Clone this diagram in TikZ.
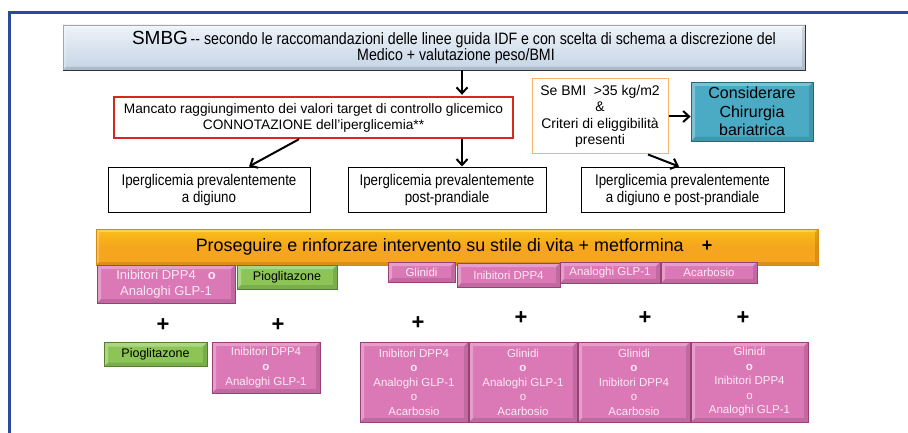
\documentclass[tikz,border=0pt]{standalone}
\usepackage{fontspec}
\setmainfont{Liberation Sans}
\newfontfamily\nar[FakeStretch=0.86]{Liberation Sans}
\usetikzlibrary{arrows.meta,calc}
\definecolor{frameblue}{HTML}{2B4A9C}
\definecolor{pinkf}{HTML}{DB79B6}
\definecolor{pinkd}{HTML}{9C3F78}
\definecolor{pinkt}{HTML}{FBEAF5}
\definecolor{greenf}{HTML}{8CC556}
\definecolor{greend}{HTML}{557F2C}
\definecolor{tealf}{HTML}{4BAAC4}
\definecolor{teald}{HTML}{23687C}
\definecolor{orangef}{HTML}{F5A51E}
\definecolor{oranged}{HTML}{D98A0E}
\definecolor{redb}{HTML}{D42A1E}
\definecolor{bmib}{HTML}{F7B36E}
\definecolor{smbgt}{HTML}{EEF3F9}
\definecolor{smbgb}{HTML}{C4D4E5}
\tikzset{
  bev/.style={path picture={
    \coordinate (ppsw) at (path picture bounding box.south west);
    \coordinate (ppne) at (path picture bounding box.north east);
    \fill[white,opacity=.28] (ppsw) |- (ppne) -- ([shift={(-#1,-#1)}]ppne) -| ([shift={(#1,#1)}]ppsw) -- cycle;
    \fill[black,opacity=.12] (ppsw) -| (ppne) -- ([shift={(-#1,-#1)}]ppne) |- ([shift={(#1,#1)}]ppsw) -- cycle;
  }},
  bev/.default=4pt,
  box/.style={rectangle, inner sep=0pt, align=center},
  blackbox/.style={box, draw=black, line width=1pt, fill=white, font=\nar\fontsize{15.5}{17}\selectfont},
  pinkbox/.style={box, fill=pinkf, draw=pinkd, line width=.7pt, bev, text=pinkt},
  greenbox/.style={box, fill=greenf, draw=greend, line width=.7pt, bev, text=black, font=\fontsize{12.5}{14}\selectfont},
  arr/.style={line width=2pt, -{Straight Barb[length=6pt,width=11pt,line width=2pt]}},
  plus/.style={font=\bfseries\fontsize{22}{22}\selectfont, inner sep=0pt},
}
\begin{document}
\begin{tikzpicture}[x=1pt,y=-1pt]
\useasboundingbox (0,0) rectangle (908,433);
\fill[white] (0,0) rectangle (908,433);
% frame
\draw[frameblue, line width=3pt] (9.5,433) -- (9.5,13) -- (908,13);

% top SMBG box
\node[box, minimum width=742pt, minimum height=45pt, top color=smbgt, bottom color=smbgb,
      draw=gray!70, line width=.7pt, bev=3pt] (smbg) at (434,47.5)
  {\hspace*{40pt}{\fontsize{19}{19}\selectfont SMBG} {\nar\fontsize{16.5}{19}\selectfont -- secondo le raccomandazioni delle linee guida IDF e con scelta di schema a discrezione del}\\
   \hspace*{44pt}{\nar\fontsize{16.5}{19}\selectfont Medico + valutazione peso/BMI}};
\draw[line width=1pt, black!80] (smbg.north east) -- (smbg.south east) -- (smbg.south west);

% red box
\node[box, minimum width=399pt, minimum height=41pt, draw=redb, line width=2.4pt, fill=white,
      font=\fontsize{13.7}{16}\selectfont] (red) at (313.5,117.5)
  {Mancato raggiungimento dei valori target di controllo glicemico\\CONNOTAZIONE dell’iperglicemia**};

% BMI box
\node[box, minimum width=136pt, minimum height=75pt, draw=bmib, line width=1pt, fill=white,
      font=\fontsize{14}{16.5}\selectfont] (bmi) at (600,116.5)
  {Se BMI\ \ >35 kg/m2\\\&\\Criteri di eliggibilità\\presenti};

% surgery box
\node[box, minimum width=122pt, minimum height=59pt, fill=tealf, draw=teald, line width=.8pt, bev=4pt,
      font=\fontsize{16}{18.5}\selectfont] (chir) at (752,111.5)
  {Considerare\\Chirurgia\\bariatrica};

% hyperglycaemia boxes
\node[blackbox, minimum width=202pt, minimum height=44pt] (b1) at (209,190)
  {Iperglicemia prevalentemente\\a digiuno};
\node[blackbox, minimum width=198pt, minimum height=44pt] (b2) at (447,190)
  {Iperglicemia prevalentemente\\post-prandiale};
\node[blackbox, minimum width=203pt, minimum height=44pt] (b3) at (682.5,190)
  {Iperglicemia prevalentemente\\a digiuno e post-prandiale};

% arrows
\coordinate (xa) at (462,0);
\coordinate (xl1) at (299,0);
\coordinate (xl2) at (249,0);
\coordinate (xr1) at (648,0);
\coordinate (xr2) at (679,0);
\draw[arr] (smbg.south -| xa) -- ([yshift=1pt]red.north -| xa);
\draw[arr] (red.south -| xa) -- ([yshift=1pt]b2.north -| xa);
\draw[arr] (red.south -| xl1) -- ([yshift=1pt]b1.north -| xl2);
\draw[arr] (bmi.south -| xr1) -- ([yshift=1pt]b3.north -| xr2);
\draw[arr] (bmi.east) -- (bmi.east -| chir.west);

% orange banner
\node[box, minimum width=722pt, minimum height=36pt, top color=orangef!70!yellow, bottom color=orangef,
      middle color=orangef, draw=oranged, line width=.8pt, bev=3pt, font=\fontsize{17.9}{19}\selectfont] (ban) at (457,247)
  {\hspace*{-6pt}Proseguire e rinforzare intervento su stile di vita + metformina\hspace{18pt}\textbf{+}};

% row of options under the banner
\node[pinkbox, minimum width=138pt, minimum height=38pt, font=\fontsize{13}{16}\selectfont] (p1) at (166,284)
  {Inibitori DPP4\hspace{12pt}\textbf{o}\\Analoghi GLP-1};
\node[greenbox, minimum width=100pt, minimum height=24pt] (g1) at (287,277) {Pioglitazone};

\node[pinkbox, minimum width=67pt, minimum height=20pt, font=\fontsize{11.5}{12}\selectfont] (s1) at (421.5,272) {Glinidi};
\node[pinkbox, minimum width=103pt, minimum height=24pt, font=\fontsize{11.5}{12}\selectfont] (s2) at (508.5,275) {Inibitori DPP4};
\node[pinkbox, minimum width=100pt, minimum height=21pt, font=\fontsize{11.5}{12}\selectfont] (s3) at (610,272.5) {Analoghi GLP-1};
\node[pinkbox, minimum width=96pt, minimum height=21pt, font=\fontsize{11.5}{12}\selectfont] (s4) at (709,272.5) {Acarbosio};

% plus signs
\node[plus] (pl1) at (163,325) {+};
\node[plus] (pl2) at (278,325) {+};
\node[plus] (pl3) at (418,323) {+};
\node[plus] (pl4) at (521,318) {+};
\node[plus] (pl5) at (645,318) {+};
\node[plus] (pl6) at (743,318) {+};

% bottom row
\node[greenbox, minimum width=103pt, minimum height=24pt] (g2) at (155.5,354.5) {Pioglitazone};
\node[pinkbox, minimum width=108pt, minimum height=51pt, font=\fontsize{11.5}{15}\selectfont] (p2) at (266,367.5)
  {Inibitori DPP4\\\textbf{o}\\Analoghi GLP-1};
\node[pinkbox, minimum width=108pt, minimum height=80pt, font=\fontsize{11.5}{14.5}\selectfont] (q1) at (414,382)
  {Inibitori DPP4\\\textbf{o}\\Analoghi GLP-1\\o\\Acarbosio};
\node[pinkbox, minimum width=108pt, minimum height=80pt, font=\fontsize{11.5}{14.5}\selectfont] (q2) at (523,382)
  {Glinidi\\\textbf{o}\\Analoghi GLP-1\\o\\Acarbosio};
\node[pinkbox, minimum width=112pt, minimum height=80pt, font=\fontsize{11.5}{14.5}\selectfont] (q3) at (634,382)
  {Glinidi\\\textbf{o}\\Inibitori DPP4\\o\\Acarbosio};
\node[pinkbox, minimum width=117pt, minimum height=80pt, font=\fontsize{11.5}{14.5}\selectfont] (q4) at (749.5,382)
  {Glinidi\\\textbf{o}\\Inibitori DPP4\\o\\Analoghi GLP-1};
\end{tikzpicture}
\end{document}
